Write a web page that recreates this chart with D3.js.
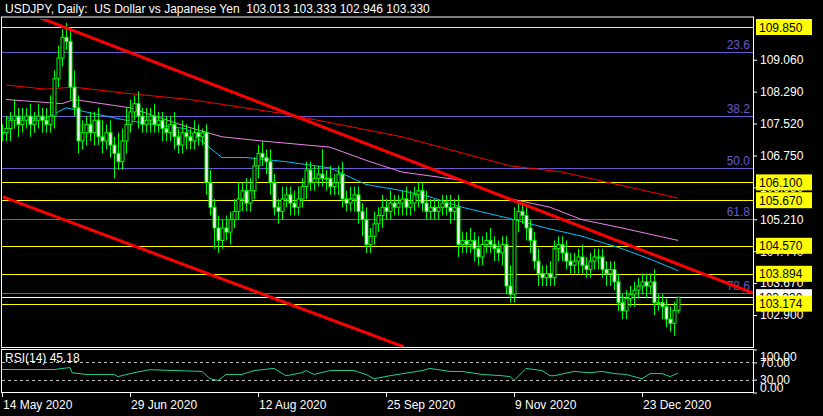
<!DOCTYPE html>
<html><head><meta charset="utf-8">
<script src="https://cdn.jsdelivr.net/npm/d3@7"></script>
<style>
body{margin:0;background:#000}
svg{display:block;font-family:"Liberation Sans",Arial,sans-serif}
</style></head><body>
<svg id="c" width="823" height="416"></svg>
<script>
const closes = [
107.3,
107.4,107.6,107.7,107.5,107.6,107.7,107.5,107.6,107.7,107.6,
107.5,107.7,108.6,109.1,109.6,109.5,108.4,107.9,107.1,107.3,
107.5,107.3,107.6,107.2,107.1,107.3,107.0,106.8,106.6,107.1,
107.5,107.8,108.0,107.7,107.5,107.6,107.7,107.5,107.6,107.4,
107.3,107.5,107.2,107.0,107.3,107.2,107.1,107.3,107.2,107.3,
106.1,105.5,105.0,104.7,105.0,104.9,105.2,105.4,105.7,105.9,
105.6,105.9,106.5,106.8,106.7,106.6,106.1,105.5,105.4,105.7,
105.8,105.6,105.5,105.7,106.0,106.4,106.1,106.2,106.3,106.2,
106.2,106.0,106.1,106.3,105.7,105.6,105.7,105.8,105.4,105.2,
104.6,104.8,105.1,105.3,105.5,105.4,105.6,105.5,105.6,105.7,
105.5,105.6,105.8,105.9,105.6,105.4,105.5,105.4,105.5,105.6,
105.5,105.4,105.5,104.6,104.7,104.6,104.7,104.5,104.3,104.6,
104.7,104.6,104.5,104.4,104.6,103.6,103.4,105.2,105.4,105.3,
105.0,104.7,104.2,103.9,103.8,103.9,103.8,104.5,104.6,104.4,
104.2,104.1,104.2,104.3,104.1,104.0,104.2,104.3,104.3,104.0,
103.9,104.0,103.7,103.2,103.0,103.3,103.4,103.5,103.6,103.7,
103.6,103.7,103.2,103.2,103.1,102.8,102.7,103.013,103.33];
const wickUp = [
.2,.3,.2,.4,.2,.3,.2,.3,.2,.3, .2,.3,.5,.2,.3,.2,.35,.3,.4,.3,
.3,.2,.3,.2,.3,.4,.2,.3,.2,.5, .3,.4,.3,.2,.3,.2,.3,.2,.3,.2,
.2,.3,.2,.3,.2,.3,.2,.2,.3,.2, .1,.2,.3,.2,.3,.2,.3,.2,.3,.4,
.2,.3,.3,.2,.2,.3,.2,.3,.2,.2, .3,.2,.2,.3,.3,.2,.2,.2,.3,.2,
.6,.2,.3,.2,.2,.3,.2,.3,.2,.2, .2,.3,.2,.3,.2,.3,.2,.3,.2,.2,
.2,.3,.3,.2,.2,.2,.3,.2,.2,.2, .2,.2,.3,.2,.3,.2,.2,.3,.2,.3,
.2,.2,.3,.2,.2,.2,.2,.5,.3,.2, .2,.2,.2,.2,.3,.2,.2,.3,.2,.2,
.2,.3,.2,.2,.2,.3,.2,.2,.2,.2, .2,.2,.2,.2,.2,.2,.2,.2,.2,.2,
.2,.2,.2,.3,.2,.2,.2,.3,.2,.003];
const wickDn = [
.2,.2,.3,.2,.3,.2,.2,.3,.2,.2, .3,.2,.2,.3,.2,.2,.2,.3,.2,.3,
.2,.3,.2,.3,.2,.3,.2,.3,.6,.2, .2,.3,.2,.2,.3,.2,.2,.3,.2,.2,
.3,.2,.2,.3,.2,.2,.3,.2,.2,.2, .2,.3,.2,.5,.3,.2,.2,.3,.2,.2,
.3,.2,.2,.2,.3,.2,.3,.3,.2,.3, .2,.2,.3,.2,.2,.2,.3,.2,.2,.2,
.2,.3,.2,.2,.3,.2,.2,.2,.3,.3, .4,.2,.2,.2,.2,.3,.2,.2,.2,.2,
.3,.2,.2,.2,.3,.2,.2,.2,.2,.2, .2,.2,.3,.2,.3,.2,.2,.2,.3,.2,
.2,.2,.2,.3,.2,.3,.2,.2,.2,.3, .2,.3,.3,.2,.3,.2,.2,.2,.2,.3,
.2,.2,.2,.2,.3,.2,.2,.2,.2,.3, .2,.3,.3,.2,.2,.2,.2,.2,.3,.2,
.2,.3,.2,.3,.2,.3,.2,.2,.3,.067];

// moving averages, [bar index, price]
const maFast = [[1,107.65],[11,107.65],[16,107.9],[21,107.8],[31,107.6],[41,107.45],[46,107.4],[55,106.7],[61,106.7],[71,106.6],[82,106.45],[91,106.05],[100,105.9],[107,105.75],[115,105.5],[126,105.25],[136,105.0],[145,104.8],[155,104.5],[162,104.25],[169,103.97]];
const maMid = [[1,108.1],[15,108.0],[18,108.1],[32,107.9],[46,107.45],[55,107.2],[65,107.1],[82,106.95],[92,106.6],[100,106.35],[115,106.15],[125,105.75],[137,105.5],[145,105.2],[155,105.0],[169,104.7]];
const maSlow = [[1,108.45],[11,108.35],[18,108.4],[31,108.25],[47,108.1],[71,107.75],[100,107.2],[127,106.5],[140,106.35],[169,105.72]];

const trendUpper = [[1.25,110.38],[187.75,103.43]];
const trendLower = [[0.25,105.75],[100.5,102.13]];

const yellowLevels = [109.850,106.100,105.670,104.570,103.894,103.174];
const fibLevels = [109.25,107.70,106.45,105.22,103.43];
const fibNames = ["23.6","38.2","50.0","61.8","78.6"];
const lastPrice = 103.330;
const priceTicks = [109.060,108.290,107.520,106.750,105.980,105.210,104.440,103.670,102.900];

const rsiIdx = [0,13,17,17.5,21,28,29,33,37,50,52,54,56,60,63,68,71,75,76,78,82,86,88,91,93,97,105,107,112,115,120,125,127,128,131,135,137,138,143,147,150,153,156,160,162,165,167,169];
const rsiVal = [53.5,53.5,58,46,42,42,37,46,53,49,32,28,42,42,51,56,39,46,51,42,51,51,51,42,32,39,51,56,49,49,42,39,37,28,56,51,39,39,49,46,49,44,42,32,44,44,37,45.18];
const rsiLevels = [70,30];
const rsiTicks = [100,70,30,0];

const dateTicks = [0,32,64,96,128,160];
const dateLabels = ["14 May 2020","29 Jun 2020","12 Aug 2020","25 Sep 2020","9 Nov 2020","23 Dec 2020"];

const svg = d3.select('#c');
const L = 2, R = 753, T = 19, B = 347;
const x = d3.scaleLinear().domain([0, 1]).range([2, 6]);
const y = d3.scaleLinear().domain([102.9, 109.85]).range([315, 27]);
const yr = d3.scaleLinear().domain([0, 100]).range([392.5, 349.5]);

svg.append('clipPath').attr('id', 'mc').append('rect').attr('x', L).attr('y', T).attr('width', R - L).attr('height', B - T);
svg.append('clipPath').attr('id', 'rc').append('rect').attr('x', L).attr('y', 350).attr('width', R - L).attr('height', 42);

const main = svg.append('g').attr('clip-path', 'url(#mc)');

main.selectAll('line.fib').data(fibLevels).enter().append('line')
  .attr('x1', L).attr('x2', R).attr('y1', d => Math.round(y(d)) + .5).attr('y2', d => Math.round(y(d)) + .5)
  .attr('stroke', '#6a5acd');
main.selectAll('text.fib').data(fibLevels).enter().append('text')
  .attr('x', 750).attr('y', d => y(d) - 3).attr('text-anchor', 'end')
  .attr('fill', '#6a5acd').attr('font-size', 12).text((d, i) => fibNames[i]);
main.selectAll('line.yl').data(yellowLevels).enter().append('line')
  .attr('x1', L).attr('x2', R).attr('y1', d => Math.round(y(d)) + .5).attr('y2', d => Math.round(y(d)) + .5)
  .attr('stroke', '#ffff00');
main.append('line').attr('x1', L).attr('x2', R)
  .attr('y1', Math.round(y(lastPrice)) + .5).attr('y2', Math.round(y(lastPrice)) + .5).attr('stroke', '#fff');

const line = d3.line().x(d => x(d[0])).y(d => y(d[1]));
main.append('path').attr('d', line(maSlow)).attr('fill', 'none').attr('stroke', '#ff0000');
main.append('path').attr('d', line(maMid)).attr('fill', 'none').attr('stroke', '#ee82ee');
main.append('path').attr('d', line(maFast)).attr('fill', 'none').attr('stroke', '#00bfff');

// candles
const bars = closes.map((c, i) => {
  const o = i ? closes[i - 1] : 107.3;
  return { i, o, c, h: Math.max(o, c) + wickUp[i], l: Math.min(o, c) - wickDn[i] };
});
const g = main.selectAll('g.bar').data(bars).enter().append('g');
g.append('line').attr('x1', d => x(d.i) + .5).attr('x2', d => x(d.i) + .5)
  .attr('y1', d => y(d.h)).attr('y2', d => y(d.l)).attr('stroke', '#00ff00');
g.append('rect').attr('x', d => x(d.i) - 1).attr('width', 3)
  .attr('y', d => y(Math.max(d.o, d.c))).attr('height', d => Math.max(1, Math.abs(y(d.o) - y(d.c))))
  .attr('fill', d => d.c < d.o ? '#fff' : '#000').attr('stroke', '#00ff00').attr('stroke-width', 1);

main.selectAll('path.tr').data([trendUpper, trendLower]).enter().append('path')
  .attr('d', line).attr('stroke', '#ff0000').attr('stroke-width', 3).attr('fill', 'none');

// frames
svg.append('rect').attr('x', L - .5).attr('y', T - 2).attr('width', R - L + 1).attr('height', B - T + 2.5)
  .attr('fill', 'none').attr('stroke', '#fff');
svg.append('rect').attr('x', L - .5).attr('y', 349.5).attr('width', R - L + 1).attr('height', 43)
  .attr('fill', 'none').attr('stroke', '#fff');

// price axis
const ax = svg.append('g').attr('transform', `translate(${R},0)`)
  .call(d3.axisRight(y).tickValues(priceTicks).tickSize(4).tickFormat(d3.format('.3f')));
ax.select('.domain').remove();
ax.selectAll('line').attr('stroke', '#fff');
ax.selectAll('text').attr('fill', '#fff').attr('font-size', 12).attr('font-family', '"Liberation Sans",Arial');

const boxes = svg.selectAll('g.box').data([[lastPrice, '#fff']].concat(yellowLevels.map(v => [v, '#ffff00'])))
  .enter().append('g');
boxes.append('rect').attr('x', 756).attr('y', d => y(d[0]) - 8).attr('width', 56).attr('height', 16).attr('fill', d => d[1]);
boxes.append('text').attr('x', 759).attr('y', d => y(d[0]) + 4.5).attr('font-size', 12).attr('fill', '#000')
  .text(d => d[0].toFixed(3));

// RSI panel
const rsi = svg.append('g').attr('clip-path', 'url(#rc)');
rsi.selectAll('line').data(rsiLevels).enter().append('line')
  .attr('x1', L).attr('x2', R).attr('y1', d => Math.round(yr(d)) + .5).attr('y2', d => Math.round(yr(d)) + .5)
  .attr('stroke', '#c0c0c0').attr('stroke-dasharray', '3,3');
rsi.append('path').attr('d', d3.line().x(d => x(d)).y((d, i) => yr(rsiVal[i]))(rsiIdx))
  .attr('fill', 'none').attr('stroke', '#20d090');
const rax = svg.append('g').attr('transform', `translate(${R},0)`)
  .call(d3.axisRight(yr).tickValues(rsiTicks).tickSize(4).tickFormat(d3.format('.2f')));
rax.select('.domain').remove();
rax.selectAll('line').attr('stroke', '#fff');
rax.selectAll('text').attr('fill', '#fff').attr('font-size', 12).attr('font-family', '"Liberation Sans",Arial')
  .attr('dy', d => d === 100 ? '0.9em' : d === 0 ? '-0.1em' : '0.32em');
svg.append('text').attr('x', 5).attr('y', 362).attr('fill', '#fff').attr('font-size', 12).text('RSI(14) 45.18');

// time axis
const tx = svg.append('g');
tx.selectAll('line').data(dateTicks).enter().append('line')
  .attr('x1', d => x(d) + .5).attr('x2', d => x(d) + .5).attr('y1', 393).attr('y2', 397).attr('stroke', '#fff');
tx.selectAll('text').data(dateTicks).enter().append('text')
  .attr('x', d => x(d) + 1).attr('y', 409).attr('fill', '#fff').attr('font-size', 12)
  .text((d, i) => dateLabels[i]);

svg.append('text').attr('x', 5).attr('y', 13).attr('fill', '#fff').attr('font-size', 12)
  .attr('xml:space', 'preserve')
  .text('USDJPY, Daily:  US Dollar vs Japanese Yen  103.013 103.333 102.946 103.330');
</script>
</body></html>
